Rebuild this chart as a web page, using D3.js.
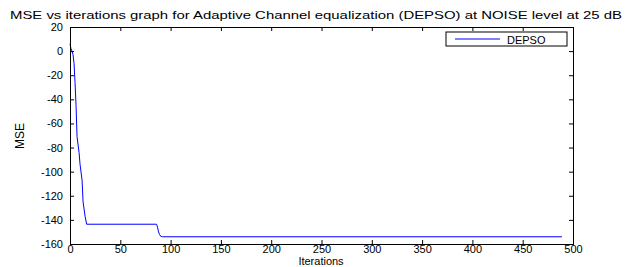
<!DOCTYPE html>
<html><head><meta charset="utf-8">
<script src="https://cdn.jsdelivr.net/npm/d3@7"></script>
<style>body{margin:0;background:#fff}svg{display:block}</style>
</head><body><svg id="c" width="628" height="267"></svg>
<script>
const iterations = [0, 1, 2, 3, 4, 5, 6, 7, 9, 10, 12, 13, 15, 16.5, 86, 87, 88, 89, 90, 92, 489];
const mseValues  = [6, 2, 0, -3, -10, -26, -45, -71, -84, -94, -107, -125, -137, -143.6, -143.6, -146, -150, -152, -153.5, -154, -154];
const xTicks = [0, 50, 100, 150, 200, 250, 300, 350, 400, 450, 500];
const yTicks = [20, 0, -20, -40, -60, -80, -100, -120, -140, -160];
const titleText = "MSE vs iterations graph for Adaptive Channel equalization (DEPSO) at NOISE level at 25 dB";
const seriesName = "DEPSO";

const svg = d3.select("#c");
const L = 70, R = 573, T = 27, B = 244;
const x = d3.scaleLinear().domain([0, 500]).range([L, R]);
const y = d3.scaleLinear().domain([-160, 20]).range([B, T]);
const font = "Liberation Sans, Arial, sans-serif";
const fmt = d => String(d);

svg.append("text").attr("x", 316).attr("y", 19).attr("text-anchor", "middle")
  .attr("font-family", font).attr("font-size", 11.5).attr("textLength", 612)
  .attr("lengthAdjust", "spacingAndGlyphs").attr("fill", "#000").text(titleText);

const data = iterations.map((d, i) => [d, mseValues[i]]);
svg.append("path").datum(data).attr("fill", "none").attr("stroke", "#0000ff").attr("stroke-width", 1)
  .attr("d", d3.line().x(d => x(d[0])).y(d => y(d[1])));

// axes
const tk = 4;
const gb = svg.append("g").attr("transform", `translate(0,${B})`).call(d3.axisBottom(x).tickValues(xTicks).tickSize(-tk).tickPadding(1).tickFormat(fmt));
const gt = svg.append("g").attr("transform", `translate(0,${T})`).call(d3.axisTop(x).tickValues(xTicks).tickSize(-tk).tickFormat(""));
const gl = svg.append("g").attr("transform", `translate(${L},0)`).call(d3.axisLeft(y).tickValues(yTicks).tickSize(-tk).tickPadding(7).tickFormat(fmt));
const gr = svg.append("g").attr("transform", `translate(${R},0)`).call(d3.axisRight(y).tickValues(yTicks).tickSize(-tk).tickFormat(""));
[gb, gt, gl, gr].forEach(g => {
  g.select(".domain").attr("stroke", "#000");
  g.selectAll(".tick line").attr("stroke", "#000");
  g.selectAll("text").attr("font-family", font).attr("font-size", 11).attr("fill", "#000");
});

svg.append("text").attr("x", 321).attr("y", 265).attr("text-anchor", "middle")
  .attr("font-family", font).attr("font-size", 11).text("Iterations");
svg.append("text").attr("transform", "translate(24,136) rotate(-90)").attr("text-anchor", "middle")
  .attr("font-family", "Liberation Sans Narrow, Arial Narrow, sans-serif").attr("font-size", 12).text("MSE");

// legend
const lg = svg.append("g");
lg.append("rect").attr("x", 446).attr("y", 32).attr("width", 121).attr("height", 14)
  .attr("fill", "#fff").attr("stroke", "#000");
lg.append("line").attr("x1", 455).attr("x2", 500).attr("y1", 39).attr("y2", 39).attr("stroke", "#0000ff");
lg.append("text").attr("x", 507).attr("y", 43.5).attr("font-family", font).attr("font-size", 11).text(seriesName);
</script></body></html>
